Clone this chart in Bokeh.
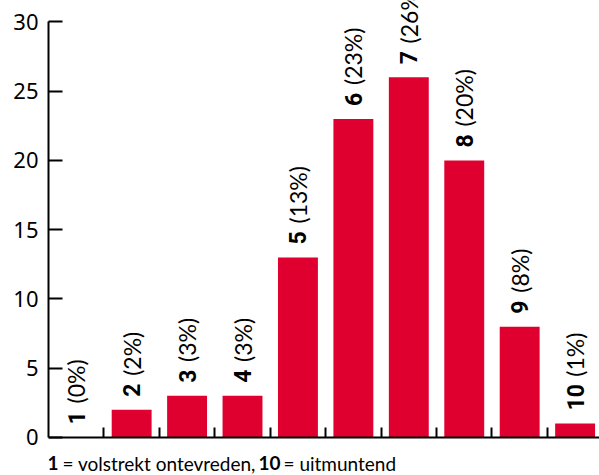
import math

from bokeh.embed import file_html
from bokeh.resources import INLINE
from bokeh.plotting import figure
from bokeh.models import ColumnDataSource, FixedTicker, Label, Range1d
from bokeh.core.properties import value

# Scores 1..10 and number of responses per score
scores = [1, 2, 3, 4, 5, 6, 7, 8, 9, 10]
counts = [0, 2, 3, 3, 13, 23, 26, 20, 8, 1]
percents = [0, 2, 3, 3, 13, 23, 26, 20, 8, 1]
y_ticks = [0, 5, 10, 15, 20, 25, 30]

RED = "#E0002F"
TEXT_FONT = "Lato"
NUM_SIZE = 23
PCT_SIZE = 23
DIGIT_W = 0.562 * NUM_SIZE  # advance of a bold Roboto digit

src = ColumnDataSource(dict(
    x=scores,
    top=counts,
    num=[str(s) for s in scores],
    pct=[f"({v}%)" for v in percents],
    # the percentage part starts after the bold score number
    pct_off=[-13 - (DIGIT_W * len(str(s)) + 8) for s in scores],
))

# the frame fills the whole height; the room below zero holds the footer
p = figure(
    width=599, height=475,
    x_range=Range1d(0.5, 10.44), y_range=Range1d(-2.75, 31.55),
    output_backend="svg", toolbar_location=None,
    min_border_left=48, min_border_right=0, min_border_top=0, min_border_bottom=0,
)
p.outline_line_color = None
p.grid.grid_line_color = None
p.background_fill_color = "white"

p.vbar(x="x", top="top", width=0.72, source=src, fill_color=RED, line_color=None)

# rotated value labels: bold score, then percentage
p.text(x="x", y="top", text="num", source=src, angle=math.pi / 2,
       text_align="left", text_baseline="middle", y_offset=-13,
       text_font=value("Roboto"), text_font_style="bold",
       text_font_size=f"{NUM_SIZE}px", text_color="black")
p.text(x="x", y="top", text="pct", source=src, angle=math.pi / 2,
       text_align="left", text_baseline="middle", y_offset="pct_off",
       text_font=value(TEXT_FONT), text_font_size=f"{PCT_SIZE}px",
       text_color="black")

# y axis: ticks pointing inward, line running from 0 to 30
ya = p.yaxis[0]
ya.ticker = FixedTicker(ticks=y_ticks)
ya.bounds = (0, 30)
ya.axis_line_width = 2
ya.major_tick_line_width = 2
ya.major_tick_in = 14
ya.major_tick_out = 0
ya.minor_tick_line_color = None
ya.major_label_standoff = 10
ya.major_label_text_font = "Noto Sans"
ya.major_label_text_font_size = "22px"
ya.major_label_text_color = "black"

# x axis drawn at zero: small inward ticks between the bars, no labels
between = [s + 0.5 for s in scores[:-1]]
xa = p.xaxis[0]
xa.fixed_location = 0
xa.ticker = FixedTicker(ticks=between)
xa.major_label_overrides = {t: "" for t in between}
xa.major_label_standoff = 0
xa.axis_line_width = 2
xa.major_tick_line_width = 2
xa.major_tick_in = 10
xa.major_tick_out = 0
xa.minor_tick_line_color = None

# footer legend: "1 = volstrekt ontevreden, 10 = uitmuntend"
# (x in pixels from the frame's left edge, y in data units below zero)
footer = [
    ("1", "bold", -1),
    ("= volstrekt ontevreden,", "normal", 14),
    ("10", "bold", 210),
    ("= uitmuntend", "normal", 235),
]
for txt, style, xpos in footer:
    p.add_layout(Label(x=xpos, y=-1.88, x_units="screen", y_units="data",
                       text=txt, text_font=TEXT_FONT, text_font_style=style,
                       text_font_size="19px", text_color="black",
                       text_baseline="middle", text_align="left"))

open("out.html", "w").write(file_html(p, INLINE))
